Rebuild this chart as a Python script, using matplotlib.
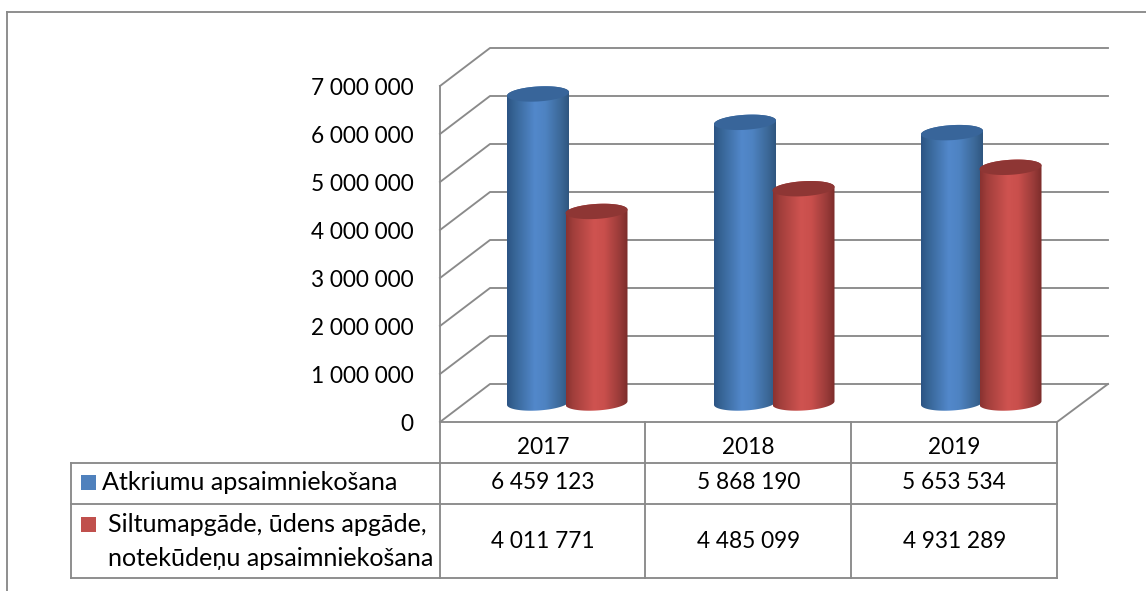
import numpy as np
import matplotlib
matplotlib.use("Agg")
import matplotlib.pyplot as plt
from matplotlib.colors import to_rgb
from matplotlib.patches import Polygon, Rectangle
from matplotlib.ticker import FuncFormatter
from matplotlib.transforms import ScaledTranslation

categories = ["2017", "2018", "2019"]
series_names = ["Atkriumu apsaimniekošana",
                "Siltumapgāde, ūdens apgāde,\nnotekūdeņu apsaimniekošana"]
waste_values = [6459123, 5868190, 5653534]
heat_values = [4011771, 4485099, 4931289]
y_ticks = [0, 1000000, 2000000, 3000000, 4000000, 5000000, 6000000, 7000000]

W, H = 1146, 591
L, R, T, B = 440, 1057, 86, 422
plt.rcParams["font.family"] = ["Lato", "DejaVu Sans"]
FS = 16.3
FS_LABEL = 18.05
GRID = "#8a8a8a"
LW = 1.35

fig = plt.figure(figsize=(W / 100, H / 100), dpi=100)
ax = fig.add_axes([L / W, 1 - B / H, (R - L) / W, (B - T) / H])
ax.patch.set_visible(False)

PX = 3 / (R - L)
PY = 7e6 / (B - T)
DX, DY = 50 * PX, 38 * PY

def line(xs, ys, lw=LW, z=1):
    ax.plot(xs, ys, color=GRID, lw=lw, clip_on=False, zorder=z, solid_capstyle="projecting")

# walls and floor
for v in y_ticks:
    line([0, DX, 3 + DX + 1 * PX], [v, v + DY, v + DY])
line([0, 0], [0, y_ticks[-1]])
line([3, 3 + DX + 1 * PX], [0, DY])
line([0, 3], [0, 0])

def gradient(stops):
    pos, cols = zip(*stops)
    xs = np.linspace(0, 1, 128)
    rgb = np.array([to_rgb(c) for c in cols])
    return np.stack([np.interp(xs, pos, rgb[:, k]) for k in range(3)], axis=1)[None, :, :]

BLUE = gradient([(0, "#2c5484"), (0.12, "#376596"), (0.45, "#5288cb"), (0.62, "#4e83c2"), (0.88, "#3b6796"), (1, "#2f567f")])
RED = gradient([(0, "#893230"), (0.12, "#a23f3c"), (0.45, "#cf5350"), (0.62, "#c94f4c"), (0.88, "#973a38"), (1, "#7c2c2a")])
TOPS = ["#38659a", "#8e3634"]

A, E, TILT = 31 * PX, 7.5 * PY, 1.8 * PY
BASE, HEAD = 19 * PY, 18 * PY
STEP, GAP, FIRST = 207 * PX, 58.5 * PX, (538 - L) * PX

def cylinder(cx, value, grad, top, z):
    t = np.linspace(0, 2 * np.pi, 121)
    head = value + HEAD
    tb = np.linspace(np.pi, 2 * np.pi, 60)
    tt = np.linspace(0, np.pi, 60)
    xs = np.r_[cx + A * np.cos(tb), cx + A * np.cos(tt)]
    ys = np.r_[BASE + E * np.sin(tb) + TILT * np.cos(tb),
               head + E * np.sin(tt) + TILT * np.cos(tt)]
    clip = Polygon(np.c_[xs, ys], closed=True, transform=ax.transData)
    im = ax.imshow(grad, extent=[cx - A, cx + A, 0, head + 2 * E], aspect="auto",
                   interpolation="bilinear", zorder=z)
    im.set_clip_path(clip)
    ax.fill(cx + A * np.cos(t), head + E * np.sin(t) + TILT * np.cos(t), color=top, lw=0, zorder=z + 0.1)

for i in range(len(categories)):
    cylinder(FIRST + i * STEP, waste_values[i], BLUE, TOPS[0], 3 + i)
    cylinder(FIRST + i * STEP + GAP, heat_values[i], RED, TOPS[1], 3.5 + i)

ax.set_xlim(0, 3)
ax.set_ylim(0, 7e6)
for s in ax.spines.values():
    s.set_visible(False)
ax.set_yticks(y_ticks)
ax.yaxis.set_major_formatter(FuncFormatter(lambda v, _: f"{int(v):,}".replace(",", " ")))
ax.tick_params(axis="y", length=0, pad=19, labelsize=FS)
ax.set_xticks([0.5, 1.5, 2.5], categories)
ax.tick_params(axis="x", length=0, pad=11, labelsize=FS)
shift = ScaledTranslation(0, -2.5 / 100, fig.dpi_scale_trans)
for lab in ax.get_yticklabels():
    lab.set_verticalalignment("center")
    lab.set_transform(lab.get_transform() + shift)

# data table
def fx(p): return (p - L) * PX
def fy(p): return (B - p) * PY
for xp in [440, 645, 851, 1057]:
    line([fx(xp), fx(xp)], [fy(422), fy(578)])
line([fx(71), fx(71)], [fy(462.5), fy(578)])
for yp in [462.5, 503.5, 578]:
    line([fx(71), fx(1057)], [fy(yp), fy(yp)])

rows = [waste_values, heat_values]
row_y = [483, 542]
for vals, yp in zip(rows, row_y):
    for j, v in enumerate(vals):
        ax.text(j + 0.5, fy(yp), f"{v:,}".replace(",", " "), ha="center", va="center",
                fontsize=FS, clip_on=False)

swatches = ["#4f81bd", "#c0504d"]
for c, yp in zip(swatches, [475, 517]):
    ax.add_patch(Rectangle((fx(81), fy(yp + 15)), 15 * PX, 15 * PY, color=c, lw=0, clip_on=False))
ax.text(fx(102), fy(482), series_names[0], va="center", fontsize=FS_LABEL, clip_on=False)
l1, l2 = series_names[1].split("\n")
ax.text(fx(108), fy(525), l1, va="center", fontsize=FS_LABEL, clip_on=False)
ax.text(fx(108), fy(559), l2, va="center", fontsize=FS_LABEL, clip_on=False)

# chart frame
line([fx(7), fx(7)], [fy(12), fy(591)])
line([fx(7), fx(1146)], [fy(12), fy(12)])

fig.savefig("out.png", dpi=100, facecolor="white")
